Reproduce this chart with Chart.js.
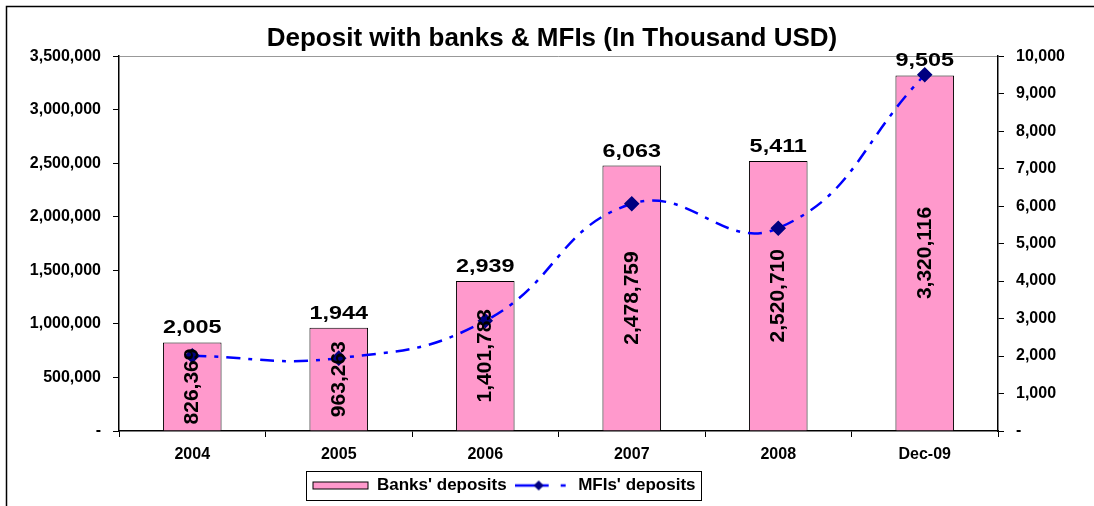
<!DOCTYPE html>
<html>
<head>
<meta charset="utf-8">
<script src="https://cdn.jsdelivr.net/npm/chart.js@4/dist/chart.umd.min.js"></script>
<style>
  html, body { margin: 0; padding: 0; background: #fff; }
  #wrap { width: 1094px; height: 506px; }
</style>
</head>
<body>
<div id="wrap"><canvas id="depositChart" width="1094" height="506"></canvas></div>
<script>
var years = ['2004', '2005', '2006', '2007', '2008', 'Dec-09'];
var bankDeposits = [826369, 963263, 1401783, 2478759, 2520710, 3320116];
var mfiDeposits = [2005, 1944, 2939, 6063, 5411, 9505];

var FONT = "'Liberation Sans', Arial, sans-serif";

function fmt(v) {
  return v === 0 ? '-' : v.toLocaleString('en-US');
}

// legend symbols
function barSymbol() {
  var c = document.createElement('canvas');
  c.width = 58; c.height = 10;
  var x = c.getContext('2d');
  x.fillStyle = '#ff99cc';
  x.fillRect(1, 1, 56, 8);
  x.strokeStyle = '#000';
  x.lineWidth = 1;
  x.strokeRect(1.5, 1.5, 55, 7);
  return c;
}
function lineSymbol() {
  var c = document.createElement('canvas');
  c.width = 54; c.height = 14;
  var x = c.getContext('2d');
  x.strokeStyle = '#0000ff';
  x.lineWidth = 2.5;
  x.beginPath(); x.moveTo(0, 7); x.lineTo(34, 7); x.stroke();
  x.beginPath(); x.moveTo(46, 7); x.lineTo(51, 7); x.stroke();
  x.fillStyle = '#000080';
  x.beginPath();
  x.moveTo(24, 2); x.lineTo(29, 7); x.lineTo(24, 12); x.lineTo(19, 7);
  x.closePath(); x.fill();
  return c;
}

var framePlugin = {
  id: 'frame',
  afterLayout: function (chart) {
    // legend sits left of centre in the original
    chart.legend.left -= 48;
    chart.legend.right -= 48;
  },
  beforeDraw: function (chart) {
    var ctx = chart.ctx;
    ctx.save();
    ctx.strokeStyle = '#000';
    ctx.lineWidth = 1.5;
    ctx.beginPath();
    ctx.moveTo(6.5, 506);
    ctx.lineTo(6.5, 6.5);
    ctx.lineTo(1094, 6.5);
    ctx.stroke();
    ctx.restore();
  },
  afterDraw: function (chart) {
    var ctx = chart.ctx;
    ctx.save();
    var barMeta = chart.getDatasetMeta(1);
    ctx.fillStyle = '#000';
    barMeta.data.forEach(function (bar, i) {
      // MFI value above bar (text in the source is wide, so stretch it)
      ctx.save();
      ctx.translate(bar.x, bar.y - 5);
      ctx.scale(1.3, 1);
      ctx.font = 'bold 18px ' + FONT;
      ctx.textAlign = 'center';
      ctx.textBaseline = 'bottom';
      ctx.fillText(fmt(mfiDeposits[i]), 0, 0);
      ctx.restore();
      // bank value rotated inside bar
      ctx.save();
      ctx.translate(bar.x, (bar.y + bar.base) / 2);
      ctx.rotate(-Math.PI / 2);
      ctx.font = 'bold 21px ' + FONT;
      ctx.textAlign = 'center';
      ctx.textBaseline = 'middle';
      ctx.fillText(fmt(bankDeposits[i]), 0, 0);
      ctx.restore();
    });
    // legend border
    var boxes = chart.legend.legendHitBoxes;
    if (boxes && boxes.length) {
      var l = Math.min.apply(null, boxes.map(function (b) { return b.left; }));
      var r = Math.max.apply(null, boxes.map(function (b) { return b.left + b.width; }));
      var t = Math.min.apply(null, boxes.map(function (b) { return b.top; }));
      var b2 = Math.max.apply(null, boxes.map(function (b) { return b.top + b.height; }));
      ctx.strokeStyle = '#000';
      ctx.lineWidth = 1;
      ctx.strokeRect(Math.round(l - 6) + 0.5, Math.round(t - 6) + 0.5, Math.round(r - l + 12), Math.round(b2 - t + 12));
    }
    ctx.restore();
  }
};

var ctx = document.getElementById('depositChart');
new Chart(ctx, {
  data: {
    labels: years,
    datasets: [
      {
        type: 'line',
        label: "MFIs' deposits",
        data: mfiDeposits,
        yAxisID: 'yRight',
        borderColor: '#0000ff',
        borderWidth: 2.5,
        borderDash: [14, 8, 4, 8],
        tension: 0.45,
        pointStyle: 'rectRot',
        pointRadius: 6,
        pointBackgroundColor: '#000080',
        pointBorderColor: '#000080',
        fill: false,
        order: 0
      },
      {
        type: 'bar',
        label: "Banks' deposits",
        data: bankDeposits,
        yAxisID: 'yLeft',
        backgroundColor: '#ff99cc',
        borderColor: '#000',
        borderWidth: 1,
        barPercentage: 0.4,
        categoryPercentage: 1,
        order: 1
      }
    ]
  },
  options: {
    responsive: false,
    animation: false,
    layout: { padding: { top: 23, left: 10, right: 0, bottom: 2 } },
    plugins: {
      title: {
        display: true,
        text: 'Deposit with banks & MFIs (In Thousand USD)',
        color: '#000',
        font: { family: FONT, size: 26, weight: 'bold' },
        padding: { top: 0, bottom: 2 }
      },
      tooltip: { enabled: false },
      legend: {
        position: 'bottom',
        reverse: true,
        labels: {
          color: '#000',
          font: { family: FONT, size: 17, weight: 'bold' },
          usePointStyle: true,
          pointStyleWidth: 56,
          padding: 7,
          generateLabels: function (chart) {
            return [
              { text: "MFIs' deposits", pointStyle: lineSymbol(), datasetIndex: 0, fontColor: '#000', lineWidth: 0 },
              { text: "Banks' deposits", pointStyle: barSymbol(), datasetIndex: 1, fontColor: '#000', lineWidth: 0 }
            ];
          }
        }
      }
    },
    scales: {
      x: {
        offset: true,
        border: { color: '#000', width: 1.5 },
        grid: { offset: true, drawOnChartArea: false, tickLength: 6, color: '#000' },
        ticks: { color: '#000', padding: 8, font: { family: FONT, size: 16, weight: 'bold' } },
        afterFit: function (s) { s.height = 39; }
      },
      yLeft: {
        position: 'left',
        min: 0,
        max: 3500000,
        border: { color: '#000', width: 1.5 },
        grid: {
          color: function (c) { return c.tick && c.tick.value === 3500000 ? '#999' : 'rgba(0,0,0,0)'; },
          tickColor: '#000',
          tickLength: 6
        },
        ticks: {
          stepSize: 500000,
          color: '#000',
          padding: 12,
          font: { family: FONT, size: 16, weight: 'bold' },
          callback: function (v) { return fmt(v); }
        },
        afterFit: function (s) { s.width = 109; }
      },
      yRight: {
        position: 'right',
        min: 0,
        max: 10000,
        border: { color: '#000', width: 1.5 },
        grid: { drawOnChartArea: false, tickColor: '#000', tickLength: 6 },
        ticks: {
          stepSize: 1000,
          color: '#000',
          padding: 12,
          font: { family: FONT, size: 16, weight: 'bold' },
          callback: function (v) { return fmt(v); }
        },
        afterFit: function (s) { s.width = 96; }
      }
    }
  },
  plugins: [framePlugin]
});
</script>
</body>
</html>
